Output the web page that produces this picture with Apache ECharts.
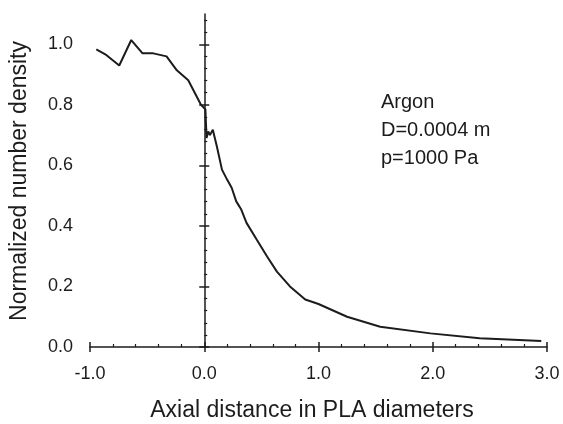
<!DOCTYPE html>
<html>
<head>
<meta charset="utf-8">
<script src="https://cdn.jsdelivr.net/npm/echarts@6/dist/echarts.min.js"></script>
<style>html,body{margin:0;padding:0;background:#fff;}#c{width:563px;height:424px;}</style>
</head>
<body>
<div id="c"></div>
<script>
// Data
const xValues = [-0.945, -0.866, -0.744, -0.639, -0.54, -0.446, -0.33, -0.24, -0.14, -0.03, 0.01, 0.02, 0.035, 0.05, 0.075, 0.11, 0.155, 0.2, 0.24, 0.28, 0.324, 0.37, 0.46, 0.55, 0.636, 0.75, 0.884, 1.0, 1.25, 1.54, 1.98, 2.41, 2.95];
const yValues = [0.983, 0.967, 0.930, 1.014, 0.970, 0.970, 0.960, 0.914, 0.881, 0.801, 0.785, 0.690, 0.712, 0.700, 0.718, 0.663, 0.586, 0.553, 0.526, 0.481, 0.454, 0.410, 0.354, 0.299, 0.249, 0.200, 0.157, 0.142, 0.100, 0.067, 0.045, 0.029, 0.020];
const xTickLabels = [-1.0, 0.0, 1.0, 2.0, 3.0];
const yMajorTicks = [0.0, 0.2, 0.4, 0.6, 0.8, 1.0];
const yMinorTicks = [0.04, 0.08, 0.12, 0.16, 0.24, 0.28, 0.32, 0.36, 0.44, 0.48, 0.52, 0.56, 0.64, 0.68, 0.72, 0.76, 0.84, 0.88, 0.92, 0.96, 1.04, 1.08];
const xTitle = 'Axial distance in PLA diameters';
const yTitle = 'Normalized number density';
const noteLines = ['Argon', 'D=0.0004 m', 'p=1000 Pa'];

const ink = '#1c1c1c';
const font = 'Liberation Sans, Arial, Helvetica, sans-serif';
const seriesData = xValues.map((x, i) => [x, yValues[i]]);

const chart = echarts.init(document.getElementById('c'), null, {renderer: 'canvas'});
const yBase = {type: 'value', min: 0, max: 1.1, splitLine: {show: false}, gridIndex: 0};
chart.setOption({
  animation: false,
  backgroundColor: '#fff',
  grid: {left: 90, right: 16, top: 14, bottom: 77, containLabel: false, outerBoundsMode: 'none'},
  xAxis: [
    {type: 'value', min: -1, max: 3, interval: 1, position: 'bottom',
     axisLine: {onZero: false, lineStyle: {color: ink, width: 1.5}},
     axisTick: {show: true, inside: true, length: 5, lineStyle: {color: ink, width: 1.5}},
     minorTick: {show: true, splitNumber: 5, length: 3, lineStyle: {color: ink, width: 1.2}},
     axisLabel: {show: true, margin: 18, color: ink, fontSize: 18, fontFamily: font,
       customValues: xTickLabels, formatter: v => v.toFixed(1)},
     splitLine: {show: false}},
    {type: 'value', min: -1, max: 3, interval: 1, position: 'bottom',
     axisLine: {show: false, onZero: false},
     axisTick: {show: true, inside: false, length: 5, lineStyle: {color: ink, width: 1.5}},
     axisLabel: {show: false}, splitLine: {show: false}}
  ],
  yAxis: [
    Object.assign({}, yBase, {position: 'left',
      axisLine: {show: false, onZero: false},
      axisTick: {show: false},
      axisLabel: {show: true, margin: 17, color: ink, fontSize: 18, fontFamily: font,
        customValues: yMajorTicks, formatter: v => v.toFixed(1)}}),
    Object.assign({}, yBase, {position: 'left',
      axisLine: {show: true, onZero: true, onZeroAxisIndex: 0, lineStyle: {color: ink, width: 1.5}},
      axisTick: {show: true, inside: false, length: 5, customValues: yMajorTicks, lineStyle: {color: ink, width: 1.5}},
      axisLabel: {show: false}}),
    Object.assign({}, yBase, {position: 'left',
      axisLine: {show: false, onZero: true, onZeroAxisIndex: 0},
      axisTick: {show: true, inside: true, length: 5, customValues: yMajorTicks, lineStyle: {color: ink, width: 1.5}},
      axisLabel: {show: false}}),
    Object.assign({}, yBase, {position: 'left',
      axisLine: {show: false, onZero: true, onZeroAxisIndex: 0},
      axisTick: {show: true, inside: true, length: 3, customValues: yMinorTicks, lineStyle: {color: ink, width: 1.2}},
      axisLabel: {show: false}})
  ],
  series: [{
    type: 'line', xAxisIndex: 0, yAxisIndex: 0, data: seriesData,
    showSymbol: false, symbol: 'none', smooth: false,
    lineStyle: {color: ink, width: 2}
  }],
  graphic: [
    {type: 'text', x: 20, y: 181, rotation: Math.PI / 2,
     style: {text: yTitle, fill: ink, font: '23px ' + font, textAlign: 'center', textVerticalAlign: 'middle'}},
    {type: 'text', x: 312, y: 411,
     style: {text: xTitle, fill: ink, font: '23px ' + font, textAlign: 'center', textVerticalAlign: 'middle'}},
    {type: 'text', x: 381, y: 88,
     style: {text: noteLines.join('\n'), fill: ink, font: '20px ' + font, lineHeight: 28, textAlign: 'left', textVerticalAlign: 'top'}}
  ]
});
</script>
</body>
</html>
